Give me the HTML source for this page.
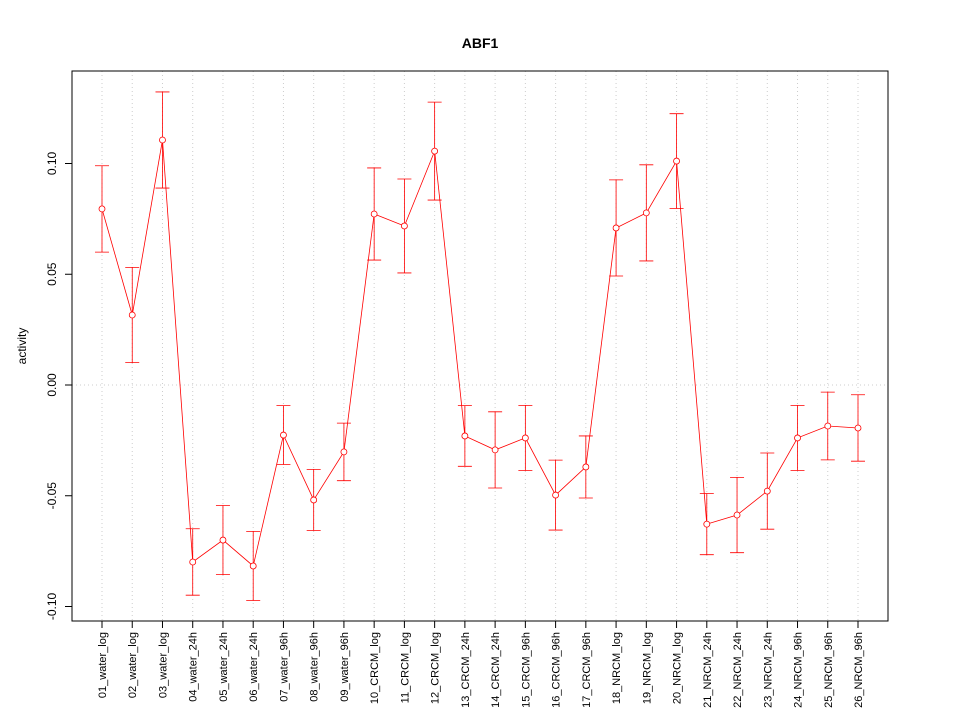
<!DOCTYPE html>
<html><head><meta charset="utf-8"><style>body{margin:0;background:#fff}svg{display:block;font-family:"Liberation Sans",sans-serif}</style></head>
<body>
<svg id="chart" width="960" height="720">
<rect width="960" height="720" fill="#fff"/>
<text x="480" y="48" text-anchor="middle" font-size="14" font-weight="bold">ABF1</text>
<text transform="translate(26,346) rotate(-90)" text-anchor="middle" font-size="12">activity</text>
<g id="grid"></g><g id="axes"></g><g id="marks"></g>
<rect x="72" y="71" width="816" height="550" fill="none" stroke="#000"/>
</svg>
<script>
const categories=["01_water_log","02_water_log","03_water_log","04_water_24h","05_water_24h","06_water_24h","07_water_96h","08_water_96h","09_water_96h","10_CRCM_log","11_CRCM_log","12_CRCM_log","13_CRCM_24h","14_CRCM_24h","15_CRCM_96h","16_CRCM_96h","17_CRCM_96h","18_NRCM_log","19_NRCM_log","20_NRCM_log","21_NRCM_24h","22_NRCM_24h","23_NRCM_24h","24_NRCM_96h","25_NRCM_96h","26_NRCM_96h"];
const values=[0.0795,0.0316,0.1106,-0.0799,-0.0700,-0.0817,-0.0226,-0.0519,-0.0302,0.0772,0.0718,0.1056,-0.0230,-0.0293,-0.0239,-0.0497,-0.0370,0.0709,0.0777,0.1011,-0.0628,-0.0587,-0.0479,-0.0239,-0.0185,-0.0194];
const errors=[0.0195,0.0215,0.0217,0.0150,0.0156,0.0156,0.0133,0.0138,0.0130,0.0208,0.0212,0.0221,0.0137,0.0172,0.0147,0.0158,0.0140,0.0217,0.0217,0.0214,0.0138,0.0170,0.0172,0.0147,0.0153,0.0150];
const yTicks=[-0.10,-0.05,0.00,0.05,0.10];
const yTickLabels=["-0.10","-0.05","0.00","0.05","0.10"];
const NS="http://www.w3.org/2000/svg";
const xs=i=>102+i*(858-102)/(categories.length-1);
const ys=v=>385-v*2215;
function mk(p,t,a){const e=document.createElementNS(NS,t);for(const k in a)e.setAttribute(k,a[k]);p.appendChild(e);return e;}
const grid=document.getElementById('grid'),axes=document.getElementById('axes'),marks=document.getElementById('marks');
categories.forEach((c,i)=>{
 const g=mk(grid,'line',{x1:xs(i),x2:xs(i),y1:71,y2:621,stroke:'#ccc','stroke-dasharray':'1,3'});
 
 
 const t=mk(axes,'line',{x1:xs(i),x2:xs(i),y1:621,y2:628,stroke:'#000'});
 
 
 const l=mk(axes,'text',{transform:`translate(${xs(i)+4},632) rotate(-90)`,'text-anchor':'end','font-size':'11'});
 l.textContent=c;
 
 
});
const zg=mk(grid,'line',{x1:72,x2:888,y1:ys(0),y2:ys(0),stroke:'#ccc','stroke-dasharray':'1,3'});


yTicks.forEach((v,i)=>{
 const t=mk(axes,'line',{x1:65,x2:72,y1:ys(v),y2:ys(v),stroke:'#000'});
 
 
 const l=mk(axes,'text',{transform:`translate(56,${ys(v)}) rotate(-90)`,'text-anchor':'middle','font-size':'12'});
 l.textContent=yTickLabels[i];
 
 
});
const pl=mk(marks,'polyline',{points:values.map((v,i)=>xs(i)+','+ys(v)).join(' '),fill:'none',stroke:'#f00','stroke-width':'0.8'});


values.forEach((v,i)=>{
 const x=xs(i),hi=ys(v+errors[i]),lo=ys(v-errors[i]);
 const eb=mk(marks,'path',{d:`M${x},${hi}V${lo}M${x-7},${hi}H${x+7}M${x-7},${lo}H${x+7}`,stroke:'#f00',fill:'none','stroke-width':'0.8'});
 
 
 const p=mk(marks,'circle',{cx:x,cy:ys(v),r:3,fill:'#fff',stroke:'#f00','stroke-width':'0.8'});
 
 
});
</script>
</body></html>
